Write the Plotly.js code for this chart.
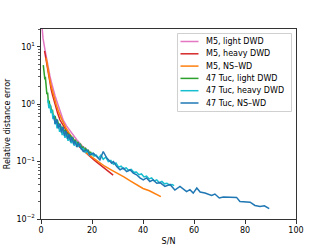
<!DOCTYPE html>
<html>
<head>
<meta charset="utf-8">
<script src="https://cdn.plot.ly/plotly-3.0.1.min.js"></script>
<style>html,body{margin:0;padding:0;background:#fff;}#chart{width:329px;height:247px;}</style>
</head>
<body>
<div id="chart"></div>
<script>
// Series names
const seriesNames = ["M5, light DWD", "M5, heavy DWD", "M5, NS\u2013WD", "47 Tuc, light DWD", "47 Tuc, heavy DWD", "47 Tuc, NS\u2013WD"];
const seriesColors = ["#e377c2", "#d62728", "#ff7f0e", "#2ca02c", "#17becf", "#1f77b4"];

// M5, light DWD
const m5LightSN  = [0.3, 0.8, 1.6, 2.0, 2.5, 3.0, 3.5, 4.0, 4.5, 5.5, 6.7, 8.0, 8.75, 10, 12, 14, 16, 18, 20];
const m5LightErr = [25, 14, 8.7, 6.8, 5.2, 4.0, 3.1, 2.5, 2.0, 1.4, 0.97, 0.64, 0.52, 0.42, 0.31, 0.24, 0.19, 0.16, 0.135];

// M5, heavy DWD
const m5HeavySN  = [1.4, 2.0, 2.5, 3.0, 3.5, 4.0, 4.5, 5.4, 6.5, 7.45, 9, 11, 13, 15, 17, 19, 21, 23, 25, 26.5, 27.5, 28.3];
const m5HeavyErr = [8.5, 5.7, 4.1, 3.0, 2.3, 1.8, 1.45, 1.0, 0.7, 0.53, 0.4, 0.29, 0.22, 0.18, 0.15, 0.125, 0.105, 0.09, 0.076, 0.068, 0.063, 0.058];

// M5, NS-WD
const m5NsSN  = [2.0, 2.5, 3.0, 3.5, 4.0, 5.0, 6.0, 7.0, 8.0, 10, 12, 14, 16, 18, 20, 22.5, 25, 27.5, 30, 32.5, 35, 37.5, 40, 42.5, 45, 47];
const m5NsErr = [6.5, 4.6, 3.4, 2.6, 2.05, 1.35, 0.98, 0.72, 0.56, 0.37, 0.27, 0.21, 0.17, 0.14, 0.12, 0.1, 0.083, 0.072, 0.063, 0.054, 0.046, 0.039, 0.034, 0.031, 0.027, 0.0245];

// 47 Tuc, light DWD
const tucLightSN  = [0.9, 1.1, 1.3, 1.5, 1.7, 1.9, 2.1, 2.3, 2.6, 2.9, 3.2, 3.5, 3.8, 4.1, 4.5, 4.8, 5.2, 5.6, 6.0, 6.5, 7.0, 7.5, 8.0, 8.5, 9.0, 9.5, 10, 10.5, 11, 11.5, 12, 12.5, 13, 13.5, 14, 14.5, 15, 15.5, 16, 16.5, 17, 17.5, 18, 18.5, 19, 19.5, 20, 20.5, 21];
const tucLightErr = [4.8, 3.6, 4.0, 2.7, 3.0, 2.0, 2.2, 1.5, 1.6, 1.05, 1.15, 0.9, 0.95, 0.75, 0.8, 0.62, 0.58, 0.6, 0.5, 0.52, 0.42, 0.45, 0.38, 0.4, 0.33, 0.36, 0.3, 0.31, 0.27, 0.29, 0.25, 0.26, 0.22, 0.24, 0.2, 0.22, 0.19, 0.2, 0.175, 0.18, 0.16, 0.17, 0.15, 0.16, 0.14, 0.145, 0.13, 0.14, 0.125];

// 47 Tuc, heavy DWD
const tucHeavySN  = [2.7, 3.1, 3.5, 3.9, 4.3, 4.7, 5.1, 5.5, 5.9, 6.3, 6.8, 7.3, 7.8, 8.3, 8.8, 9.4, 10.0, 10.6, 11.2, 11.8, 12.4, 13.0, 13.7, 14.4, 15.1, 15.8, 16.6, 17.4, 18.2, 19.0, 19.9, 20.8, 21.7, 22.6, 23.5, 24.4, 25.4, 26.4, 27.4, 28.4, 29.4, 30.4, 31.4, 32.4, 33.4, 34.4, 35.4, 36.4, 37.4, 38.4, 39.4, 40.4, 41.4, 42.4, 43.4, 44.4, 45.4, 46.4, 47.4, 48.4, 49.4, 50.4, 51.4, 52.2];
const tucHeavyErr = [1.2, 0.85, 1.0, 0.7, 0.8, 0.55, 0.65, 0.45, 0.52, 0.38, 0.45, 0.33, 0.39, 0.29, 0.34, 0.26, 0.3, 0.23, 0.27, 0.21, 0.24, 0.19, 0.22, 0.18, 0.2, 0.165, 0.17, 0.145, 0.155, 0.13, 0.14, 0.125, 0.13, 0.115, 0.13, 0.11, 0.12, 0.1, 0.105, 0.09, 0.095, 0.08, 0.083, 0.075, 0.078, 0.07, 0.073, 0.065, 0.066, 0.059, 0.061, 0.054, 0.056, 0.05, 0.052, 0.046, 0.048, 0.043, 0.045, 0.041, 0.042, 0.039, 0.04, 0.038];

// 47 Tuc, NS-WD
const tucNsSN  = [5.0, 5.6, 6.2, 6.8, 7.4, 8.0, 8.6, 9.2, 9.8, 10.4, 11.0, 11.6, 12.2, 12.8, 13.4, 14.0, 14.7, 15.3, 16.6, 17.9, 19.2, 20.5, 21.8, 23.1, 24.4, 25.8, 27.1, 27.7, 28.4, 29.7, 31.0, 32.3, 33.6, 34.9, 36.2, 37.5, 38.8, 40.1, 41.4, 42.7, 44.0, 45.4, 46.7, 48.6, 50.6, 52.5, 54.5, 57.1, 58.4, 59.7, 61.1, 62.4, 64.3, 66.9, 68.2, 69.9, 71.5, 76.7, 78.0, 80.0, 82.0, 83.9, 85.9, 87.6, 89.5];
const tucNsErr = [0.62, 0.45, 0.55, 0.38, 0.46, 0.32, 0.40, 0.28, 0.34, 0.25, 0.30, 0.22, 0.27, 0.2, 0.23, 0.18, 0.21, 0.183, 0.15, 0.16, 0.131, 0.14, 0.123, 0.107, 0.15, 0.115, 0.100, 0.094, 0.100, 0.082, 0.072, 0.077, 0.067, 0.072, 0.063, 0.059, 0.052, 0.048, 0.052, 0.045, 0.048, 0.042, 0.043, 0.037, 0.040, 0.032, 0.037, 0.030, 0.0324, 0.0283, 0.0347, 0.0295, 0.0283, 0.0257, 0.0272, 0.0232, 0.0241, 0.0238, 0.0202, 0.0199, 0.0196, 0.0172, 0.0166, 0.0170, 0.0151];

// Axis ticks
const xTickVals = [0, 20, 40, 60, 80, 100];
const yTickVals = [0.01, 0.1, 1, 10];
const yTickText = ["10<sup>\u22122</sup>", "10<sup>\u22121</sup>", "10<sup>0</sup>", "10<sup>1</sup>"];
const yMinorVals = [0.02,0.03,0.04,0.05,0.06,0.07,0.08,0.09,0.2,0.3,0.4,0.5,0.6,0.7,0.8,0.9,2,3,4,5,6,7,8,9,20];

const xs = [m5LightSN, m5HeavySN, m5NsSN, tucLightSN, tucHeavySN, tucNsSN];
const ys = [m5LightErr, m5HeavyErr, m5NsErr, tucLightErr, tucHeavyErr, tucNsErr];

const traces = seriesNames.map((n, i) => ({
  x: xs[i], y: ys[i], name: n, type: 'scatter', mode: 'lines',
  line: {color: seriesColors[i], width: 1.5}, showlegend: false
}));

// Plot area geometry (pixels) used to place a compact matplotlib-style legend
const W = 329, H = 247, ML = 41, MR = 33, MT = 29, MB = 28;
const pw = W - ML - MR, ph = H - MT - MB;
const px = v => (v - ML) / pw;
const py = v => (H - MB - v) / ph;

const font = {family: 'DejaVu Sans, sans-serif', size: 8, color: '#000'};

const shapes = [{type: 'rect', xref: 'paper', yref: 'paper', x0: px(177.5), x1: px(291.5), y0: py(111.5), y1: py(33.5),
                 line: {color: '#d0d0d0', width: 1}, fillcolor: 'rgba(255,255,255,0.8)', layer: 'above'}];
const annotations = [];
seriesNames.forEach((n, i) => {
  const yc = 41.5 + i * 12.3;
  shapes.push({type: 'line', xref: 'paper', yref: 'paper', x0: px(180.5), x1: px(198.5), y0: py(yc), y1: py(yc),
               line: {color: seriesColors[i], width: 1.5}, layer: 'above'});
  annotations.push({xref: 'paper', yref: 'paper', x: px(204), y: py(yc), text: n, showarrow: false,
                    xanchor: 'left', yanchor: 'middle', font: font});
});

const layout = {
  width: W, height: H,
  margin: {l: ML, r: MR, t: MT, b: MB},
  paper_bgcolor: '#fff', plot_bgcolor: '#fff',
  font: font,
  showlegend: false,
  shapes: shapes,
  annotations: annotations,
  xaxis: {range: [0, 100], tickvals: xTickVals, ticks: 'outside', ticklen: 3.5, tickwidth: 1,
          tickcolor: '#333', showline: true, linecolor: '#333', linewidth: 1, mirror: true,
          showgrid: false, zeroline: false, title: {text: 'S/N', font: font, standoff: 4},
          tickfont: font, automargin: false},
  yaxis: {type: 'log', range: [-2, 1.31], tickvals: yTickVals, ticktext: yTickText,
          ticks: 'outside', ticklen: 3.5, tickwidth: 1, tickcolor: '#333',
          minor: {tickmode: 'array', tickvals: yMinorVals, ticks: 'outside', ticklen: 2, tickwidth: 0.8, tickcolor: '#333', showgrid: false},
          showline: true, linecolor: '#333', linewidth: 1, mirror: true, showgrid: false, zeroline: false,
          title: {text: 'Relative distance error', font: font, standoff: 4}, tickfont: font, automargin: false}
};
Plotly.newPlot('chart', traces, layout, {staticPlot: true, displayModeBar: false});
</script>
</body>
</html>
